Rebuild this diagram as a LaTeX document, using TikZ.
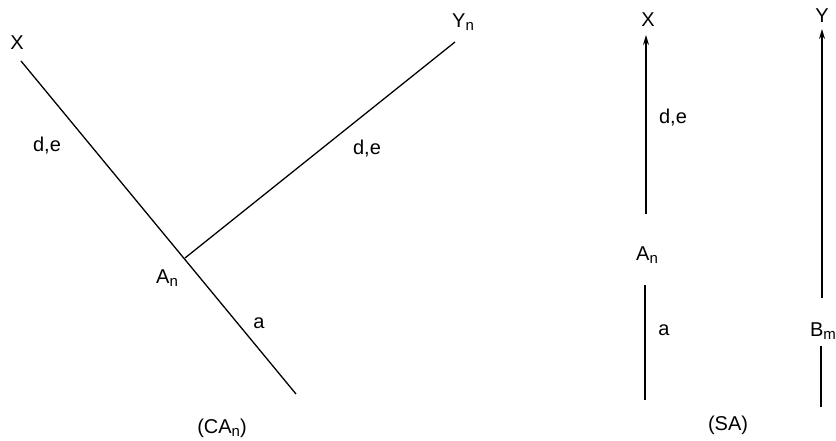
\documentclass[tikz,border=0pt]{standalone}
\usepackage{fontspec}
\setmainfont{Liberation Sans}
\usetikzlibrary{arrows.meta}
\newcommand{\sbs}[1]{{\fontsize{15}{15}\selectfont\raisebox{-3.5pt}{#1}}}
\begin{document}
\begin{tikzpicture}[x=1pt,y=-1pt,
  lbl/.style={inner sep=0pt,font=\fontsize{20}{24}\selectfont},
  ln/.style={line width=1.3pt},
  arr/.style={ln,-{Stealth[length=10pt,width=6pt]}}]
\useasboundingbox (0,0) rectangle (836,441);
% left diagram
\coordinate (x1) at (21,61);
\coordinate (x2) at (296,394);
\coordinate (j) at (185,258);
\coordinate (yn) at (455,42);
\draw[ln] (x1) -- (x2);
\draw[ln] (j) -- (yn);
\node[lbl] (lX) at (17,43) {X};
\node[lbl] (lYn) at (463,22) {Y\sbs{n}};
\node[lbl] (lde1) at (47,146) {d,e};
\node[lbl] (lde2) at (367,149) {d,e};
\node[lbl] (lAn) at (167,278) {A\sbs{n}};
\node[lbl] (la) at (259,323) {a};
\node[lbl] (lCA) at (222,428) {(CA\sbs{n})};
% right diagram
\coordinate (p1) at (646,214);
\coordinate (p2) at (646,35);
\coordinate (p3) at (645,285);
\coordinate (p4) at (645,400);
\draw[arr] (p1) -- (p2);
\draw[ln] (p3) -- (p4);
\coordinate (q1) at (822,298);
\coordinate (q2) at (822,29);
\coordinate (q3) at (821,346);
\coordinate (q4) at (821,407);
\draw[arr] (q1) -- (q2);
\draw[ln] (q3) -- (q4);
\node[lbl] (rX) at (648,20) {X};
\node[lbl] (rY) at (822,16) {Y};
\node[lbl] (rde) at (673,118) {d,e};
\node[lbl] (rAn) at (647,255) {A\sbs{n}};
\node[lbl] (ra) at (664,330) {a};
\node[lbl] (rBm) at (823,331) {B\sbs{m}};
\node[lbl] (rSA) at (728,425) {(SA)};
\end{tikzpicture}
\end{document}
